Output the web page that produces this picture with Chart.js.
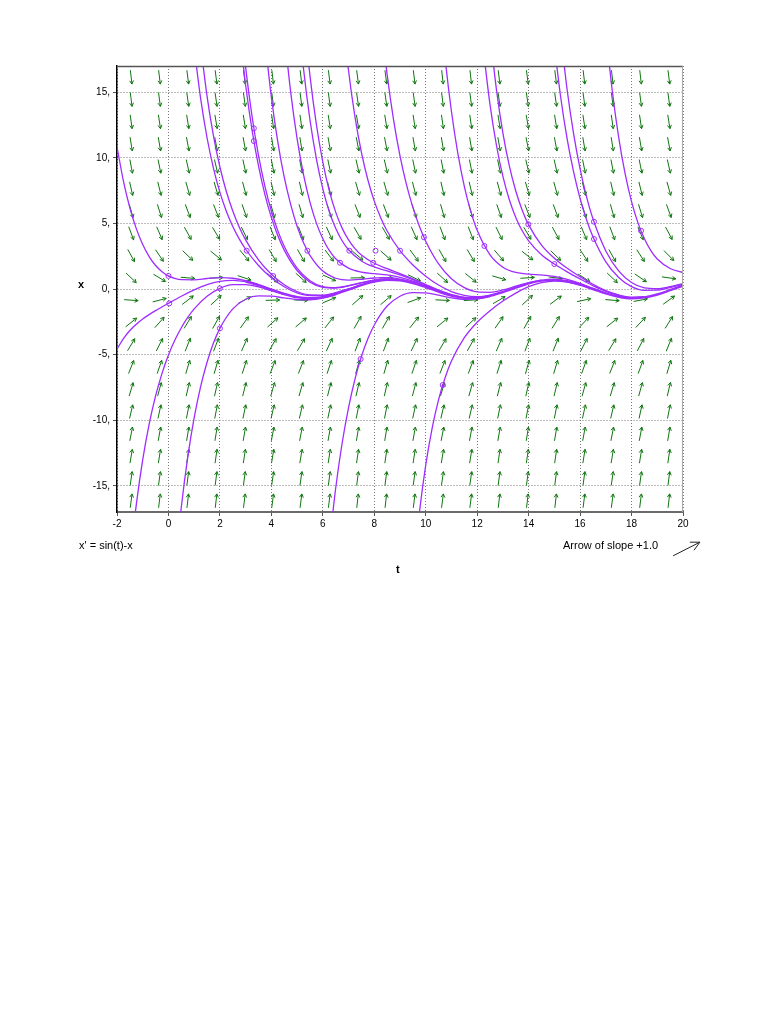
<!DOCTYPE html>
<html>
<head>
<meta charset="utf-8">
<title>x' = sin(t)-x direction field</title>
<script src="https://cdn.jsdelivr.net/npm/chart.js@4.4.1/dist/chart.umd.min.js"></script>
<style>
html,body{margin:0;padding:0;background:#fff;}
#wrap{position:relative;width:768px;height:1024px;background:#fff;}
#c{position:absolute;left:0;top:0;}
.lbl{position:absolute;font-family:"Liberation Sans",Arial,sans-serif;font-size:11px;line-height:13px;color:#000;white-space:nowrap;}
</style>
</head>
<body>
<div id="wrap">
<canvas id="c" width="768" height="600"></canvas>
<div class="lbl" style="left:78px;top:278px;font-weight:bold;">x</div>
<div class="lbl" style="left:79px;top:539px;">x' = sin(t)-x</div>
<div class="lbl" style="left:563px;top:539px;">Arrow of slope +1.0</div>
<div class="lbl" style="left:396px;top:563px;font-weight:bold;">t</div>
</div>
<script>
// ---------- data ----------
const tTicks = [-2, 0, 2, 4, 6, 8, 10, 12, 14, 16, 18, 20];
const xTicks = [-15, -10, -5, 0, 5, 10, 15];

// direction-field grid: column times, row x values, and the t-part of the slope per column
const arrowT = [-1.45,-0.35,0.75,1.85,2.95,4.05,5.15,6.25,7.35,8.45,9.55,10.65,11.75,12.85,13.95,15.05,16.15,17.25,18.35,19.45];
const arrowX = [16.15,14.45,12.75,11.05,9.35,7.65,5.95,4.25,2.55,0.85,-0.85,-2.55,-4.25,-5.95,-7.65,-9.35,-11.05,-12.75,-14.45,-16.15];
const arrowDrift = [-0.99,-0.34,0.68,0.96,0.19,-0.79,-0.91,-0.03,0.88,0.83,-0.12,-0.94,-0.73,0.28,0.98,0.61,-0.43,-1.0,-0.48,0.57];

// solution curves, [t, x] pairs
const curveA = [[-2,10.84],[-1.75,8.23],[-1.5,6.19],[-1.25,4.6],[-1,3.39],[-0.75,2.47],[-0.5,1.79],[-0.25,1.32],[0,1.0],[0.5,0.71],[1,0.7],[1.5,0.8],[2,0.87],[2.5,0.82],[3,0.64],[3.5,0.34]];
const curveB = [[-2,-4.58],[-1.75,-3.78],[-1.5,-3.16],[-1.25,-2.68],[-1,-2.28],[-0.5,-1.65],[0,-1.09],[0.5,-0.55],[1,-0.07],[1.5,0.33],[2,0.58],[2.5,0.65],[3,0.57]];
const curveC = [[1,18.39],[1.25,14.53],[1.5,11.53],[1.75,9.2],[2,7.37],[2.25,5.93],[2.5,4.77],[2.75,3.82],[3,3.03],[3.5,1.79],[4,0.86],[4.5,0.17],[5,-0.29],[5.5,-0.5],[6,-0.5],[6.5,-0.31],[7,0.0]];
const curveD = [[1.25,18.6],[1.5,14.7],[1.75,11.67],[2,9.3],[2.25,7.43],[2.5,5.94],[2.75,4.73],[3,3.74],[3.5,2.22],[4,1.12],[4.5,0.33],[5,-0.19],[5.5,-0.45],[6,-0.46],[6.5,-0.28],[7,0.01],[7.5,0.33]];
const curveE = [[2.75,19.88],[3,15.55],[3.25,12.11],[3.5,9.38],[3.75,7.2],[4,5.46],[4.25,4.07],[4.5,2.96],[5,1.41],[5.5,0.52],[6,0.13],[6.5,0.07],[7,0.23],[7.5,0.46],[8,0.67],[8.5,0.76],[9,0.7]];
const curveF = [[2.75,21.6],[3,16.89],[3.25,13.15],[3.5,10.19],[3.75,7.83],[4,5.95],[4.25,4.45],[4.5,3.26],[5,1.59],[5.5,0.63],[6,0.19],[6.5,0.11],[7,0.25],[7.5,0.48],[8,0.68],[8.5,0.77],[9,0.7]];
const curveG = [[3.75,18.98],[4,14.63],[4.25,11.21],[4.5,8.52],[4.75,6.45],[5,4.78],[5.25,3.52],[5.5,2.57],[6,1.37],[6.5,0.82],[7,0.68],[7.5,0.74],[8,0.84],[8.5,0.86],[9,0.76],[9.5,0.52],[10,0.18]];
const curveH = [[4.5,19.54],[4.75,15.03],[5,11.46],[5.25,8.72],[5.5,6.62],[5.75,5.02],[6,3.83],[6.25,2.94],[6.5,2.31],[7,1.59],[7.5,1.29],[8,1.17],[8.5,1.07],[9,0.88],[9.5,0.6],[10,0.23],[10.5,-0.15]];
const curveI = [[5,21.82],[5.25,16.79],[5.5,12.9],[5.75,9.92],[6,7.64],[6.25,5.91],[6.5,4.63],[6.75,3.68],[7,2.99],[7.5,2.14],[8,1.68],[8.5,1.38],[9,1.07],[9.5,0.71],[10,0.3],[10.5,-0.11],[11,-0.45]];
const curveJ = [[5.25,21.1],[5.5,16.27],[5.75,12.54],[6,9.68],[6.25,7.5],[6.5,5.86],[6.75,4.64],[7,3.74],[7.25,3.08],[7.5,2.59],[8,1.96],[8.5,1.55],[9,1.17],[9.5,0.77],[10,0.34],[10.5,-0.09],[11,-0.43],[11.5,-0.64]];
const curveK = [[6.75,21.21],[7,16.64],[7.25,13.12],[7.5,10.42],[7.75,8.33],[8,6.7],[8.25,5.44],[8.5,4.42],[9,2.92],[9.5,1.83],[10,0.98],[10.5,0.3],[11,-0.2],[11.5,-0.49],[12,-0.58],[12.5,-0.46],[13,-0.2]];
const curveL = [[8.25,20.74],[8.5,16.35],[8.75,12.89],[9,10.15],[9.25,7.97],[9.5,6.22],[9.75,4.8],[10,3.64],[10.5,1.91],[11,0.78],[11.5,0.1],[12,-0.22],[12.5,-0.25],[13,-0.07],[13.5,0.21],[14,0.49],[14.5,0.68]];
const curveM = [[10.5,22.94],[10.75,17.66],[11,13.53],[11.25,10.32],[11.5,7.83],[11.75,5.92],[12,4.47],[12.5,2.6],[13,1.66],[13.5,1.26],[14,1.13],[14.5,1.07],[15,0.96],[15.5,0.74],[16,0.43],[16.5,0.05],[17,-0.31]];
const curveN = [[12.25,18.06],[12.5,14.03],[12.75,10.94],[13,8.58],[13.25,6.8],[13.5,5.46],[13.75,4.44],[14,3.67],[14.5,2.61],[15,1.9],[15.5,1.31],[16,0.77],[16.5,0.26],[17,-0.18],[17.5,-0.49],[18,-0.65],[18.5,-0.6]];
const curveO = [[12.5,19.47],[12.75,15.18],[13,11.89],[13.25,9.38],[13.5,7.47],[13.75,6.01],[14,4.89],[14.5,3.35],[15,2.35],[15.5,1.58],[16,0.94],[16.5,0.36],[17,-0.12],[17.5,-0.45],[18,-0.62],[18.5,-0.59]];
const curveP = [[15,18.55],[15.25,14.56],[15.5,11.41],[15.75,8.91],[16,6.9],[16.25,5.28],[16.5,3.98],[17,2.07],[17.5,0.88],[18,0.18],[18.5,-0.1],[19,-0.09],[19.5,0.11],[20,0.37]];
const curveQ = [[15.25,19.33],[15.5,15.13],[15.75,11.8],[16,9.15],[16.25,7.04],[16.5,5.35],[17,2.9],[17.5,1.38],[18,0.49],[18.5,0.08],[19,0.02],[19.5,0.18],[20,0.41]];
const curveR = [[17,19.69],[17.25,15.11],[17.5,11.56],[17.75,8.79],[18,6.66],[18.25,5.04],[18.5,3.83],[18.75,2.93],[19,2.29],[19.5,1.56],[20,1.25]];
const curveS = [[-1.5,-20.84],[-1.25,-16.44],[-1,-13.0],[-0.75,-10.3],[-0.5,-8.15],[-0.25,-6.43],[0,-5.03],[0.25,-3.89],[0.5,-2.95],[0.75,-2.17],[1,-1.52],[1.5,-0.55],[2,0.05],[2.5,0.33],[3,0.34],[3.5,0.16],[4,-0.13],[4.5,-0.43]];
const curveT = [[0.25,-21.44],[0.5,-16.62],[0.75,-12.81],[1,-9.81],[1.25,-7.44],[1.5,-5.58],[1.75,-4.12],[2,-3.0],[2.5,-1.52],[3,-0.78],[3.5,-0.52],[4,-0.55],[4.5,-0.68],[5,-0.8],[5.5,-0.82],[6,-0.69],[6.5,-0.42]];
const curveU = [[6.25,-19.54],[6.5,-15.19],[6.75,-11.76],[7,-9.04],[7.25,-6.87],[7.5,-5.15],[7.75,-3.8],[8,-2.74],[8.5,-1.3],[9,-0.55],[9.5,-0.28],[10,-0.3],[10.5,-0.47],[11,-0.67],[11.5,-0.78],[12,-0.75],[12.5,-0.57]];
const curveV = [[9.5,-21.91],[9.75,-17.11],[10,-13.42],[10.25,-10.6],[10.5,-8.43],[10.75,-6.78],[11,-5.49],[11.5,-3.71],[12,-2.53],[12.5,-1.65],[13,-0.92],[13.5,-0.31],[14,0.18],[14.5,0.49],[15,0.61],[15.5,0.53],[16,0.3]];
// the periodic solution all curves settle onto
const bandCurve = [[3,0.57],[3.5,0.29],[4,-0.05],[4.5,-0.38],[5,-0.62],[5.5,-0.71],[6,-0.62],[6.5,-0.38],[7,-0.05],[7.5,0.3],[8,0.57],[8.5,0.7],[9,0.66],[9.5,0.46],[10,0.15],[10.5,-0.2],[11,-0.5],[11.5,-0.68],[12,-0.69],[12.5,-0.53],[13,-0.24],[13.5,0.1],[14,0.43],[14.5,0.64],[15,0.71],[15.5,0.59],[16,0.33],[16.5,0.0],[17,-0.34],[17.5,-0.59],[18,-0.71],[18.5,-0.64],[19,-0.42],[19.5,-0.09],[20,0.25]];
// initial points (small circles)
const startPoints = [[0,1.0],[0.03,-1.1],[2.0,0.05],[2.0,-3.0],[3.04,2.92],[3.32,12.25],[3.32,11.28],[4.07,0.99],[5.4,2.92],[6.67,2.0],[7.03,2.92],[7.96,2.0],[8.05,2.92],[9.0,2.92],[9.93,3.94],[12.28,3.28],[13.99,4.93],[15.0,1.9],[16.54,5.13],[16.54,3.81],[18.37,4.44],[7.47,-5.34],[10.66,-7.32]];

const curves = [curveA,curveB,curveC,curveD,curveE,curveF,curveG,curveH,curveI,curveJ,curveK,curveL,curveM,curveN,curveO,curveP,curveQ,curveR,curveS,curveT,curveU,curveV];

// ---------- styles ----------
const CURVE_COLOR = 'rgb(158,45,255)';
const ARROW_COLOR = 'rgb(15,118,15)';
const FONT = '"Liberation Sans", Arial, sans-serif';

const toXY = arr => arr.map(p => ({x: p[0], y: p[1]}));

const datasets = curves.map(c => ({
  type: 'line', data: toXY(c), borderColor: CURVE_COLOR, borderWidth: 1.3,
  pointRadius: 0, fill: false, cubicInterpolationMode: 'monotone'
}));
datasets.push({
  type: 'line', data: toXY(bandCurve), borderColor: CURVE_COLOR, borderWidth: 2.4,
  pointRadius: 0, fill: false, cubicInterpolationMode: 'monotone'
});
datasets.push({
  type: 'scatter', data: toXY(startPoints), showLine: false, pointRadius: 2.5,
  pointStyle: 'circle', borderColor: CURVE_COLOR, backgroundColor: 'rgba(0,0,0,0)', borderWidth: 1
});

function drawArrow(ctx, cx, cy, ux, uy, len, head, ang) {
  const x1 = cx - ux * len / 2, y1 = cy - uy * len / 2;
  const x2 = cx + ux * len / 2, y2 = cy + uy * len / 2;
  ctx.beginPath();
  ctx.moveTo(x1, y1); ctx.lineTo(x2, y2);
  const bx = -ux, by = -uy;
  const c = Math.cos(ang), s = Math.sin(ang);
  ctx.moveTo(x2, y2); ctx.lineTo(x2 + (bx * c - by * s) * head, y2 + (bx * s + by * c) * head);
  ctx.moveTo(x2, y2); ctx.lineTo(x2 + (bx * c + by * s) * head, y2 + (-bx * s + by * c) * head);
  ctx.stroke();
}

const fieldPlugin = {
  id: 'field',
  beforeDatasetsDraw(chart) {
    const {ctx, chartArea: a, scales: {x: sx, y: sy}} = chart;
    const kx = sx.getPixelForValue(1) - sx.getPixelForValue(0);
    const ky = sy.getPixelForValue(0) - sy.getPixelForValue(1);
    ctx.save();
    ctx.beginPath(); ctx.rect(a.left, a.top, a.right - a.left, a.bottom - a.top); ctx.clip();
    ctx.strokeStyle = ARROW_COLOR; ctx.lineWidth = 1;
    arrowT.forEach((t, i) => {
      arrowX.forEach(xv => {
        const slope = arrowDrift[i] - xv;
        let dx = kx, dy = -ky * slope;
        const n = Math.hypot(dx, dy); dx /= n; dy /= n;
        drawArrow(ctx, sx.getPixelForValue(t), sy.getPixelForValue(xv), dx, dy, 14, 4, 0.5);
      });
    });
    ctx.restore();
  },
  afterDraw(chart) {
    const {ctx, chartArea: a, scales: {x: sx, y: sy}} = chart;
    ctx.save();
    ctx.lineWidth = 1.5; ctx.strokeStyle = '#555';
    ctx.beginPath(); ctx.moveTo(a.left, a.top + 0.5); ctx.lineTo(a.right, a.top + 0.5); ctx.stroke();
    ctx.lineWidth = 1; ctx.strokeStyle = '#aaa';
    ctx.beginPath(); ctx.moveTo(a.right - 0.5, a.top); ctx.lineTo(a.right - 0.5, a.bottom); ctx.stroke();
    const kx = sx.getPixelForValue(1) - sx.getPixelForValue(0);
    const ky = sy.getPixelForValue(0) - sy.getPixelForValue(1);
    let dx = kx, dy = -ky; const n = Math.hypot(dx, dy); dx /= n; dy /= n;
    ctx.strokeStyle = '#222'; ctx.lineWidth = 1;
    drawArrow(ctx, a.right + 3.5, a.bottom + 37, dx, dy, 30, 10, 0.47);
    ctx.restore();
  }
};

new Chart(document.getElementById('c').getContext('2d'), {
  type: 'scatter',
  data: {datasets},
  options: {
    responsive: false,
    animation: false,
    events: [],
    plugins: {legend: {display: false}, tooltip: {enabled: false}},
    layout: {padding: {left: 0, top: 66, right: 85, bottom: 58}},
    scales: {
      x: {
        type: 'linear', min: -2, max: 20,
        afterBuildTicks: s => { s.ticks = tTicks.map(v => ({value: v})); },
        afterFit: s => { s.height = 30; s.paddingLeft = 0; s.paddingRight = 0; },
        grid: {color: '#7a7a7a', lineWidth: 1, tickLength: 4, tickColor: '#555', tickBorderDash: []},
        border: {display: true, color: '#6a6a6a', width: 2, dash: [1, 2]},
        ticks: {font: {family: FONT, size: 10}, color: '#000', padding: 2, maxRotation: 0, autoSkip: false}
      },
      y: {
        type: 'linear', min: -17, max: 17,
        afterBuildTicks: s => { s.ticks = xTicks.map(v => ({value: v})); },
        afterFit: s => { s.width = 117; s.paddingTop = 0; s.paddingBottom = 0; },
        grid: {color: '#7a7a7a', lineWidth: 1, tickLength: 4, tickColor: '#555', tickBorderDash: []},
        border: {display: true, color: '#000', width: 1.5, dash: [1, 2]},
        ticks: {font: {family: FONT, size: 10}, color: '#000', padding: 3, autoSkip: false,
                callback: v => v + ','}
      }
    }
  },
  plugins: [fieldPlugin]
});
</script>
</body>
</html>
